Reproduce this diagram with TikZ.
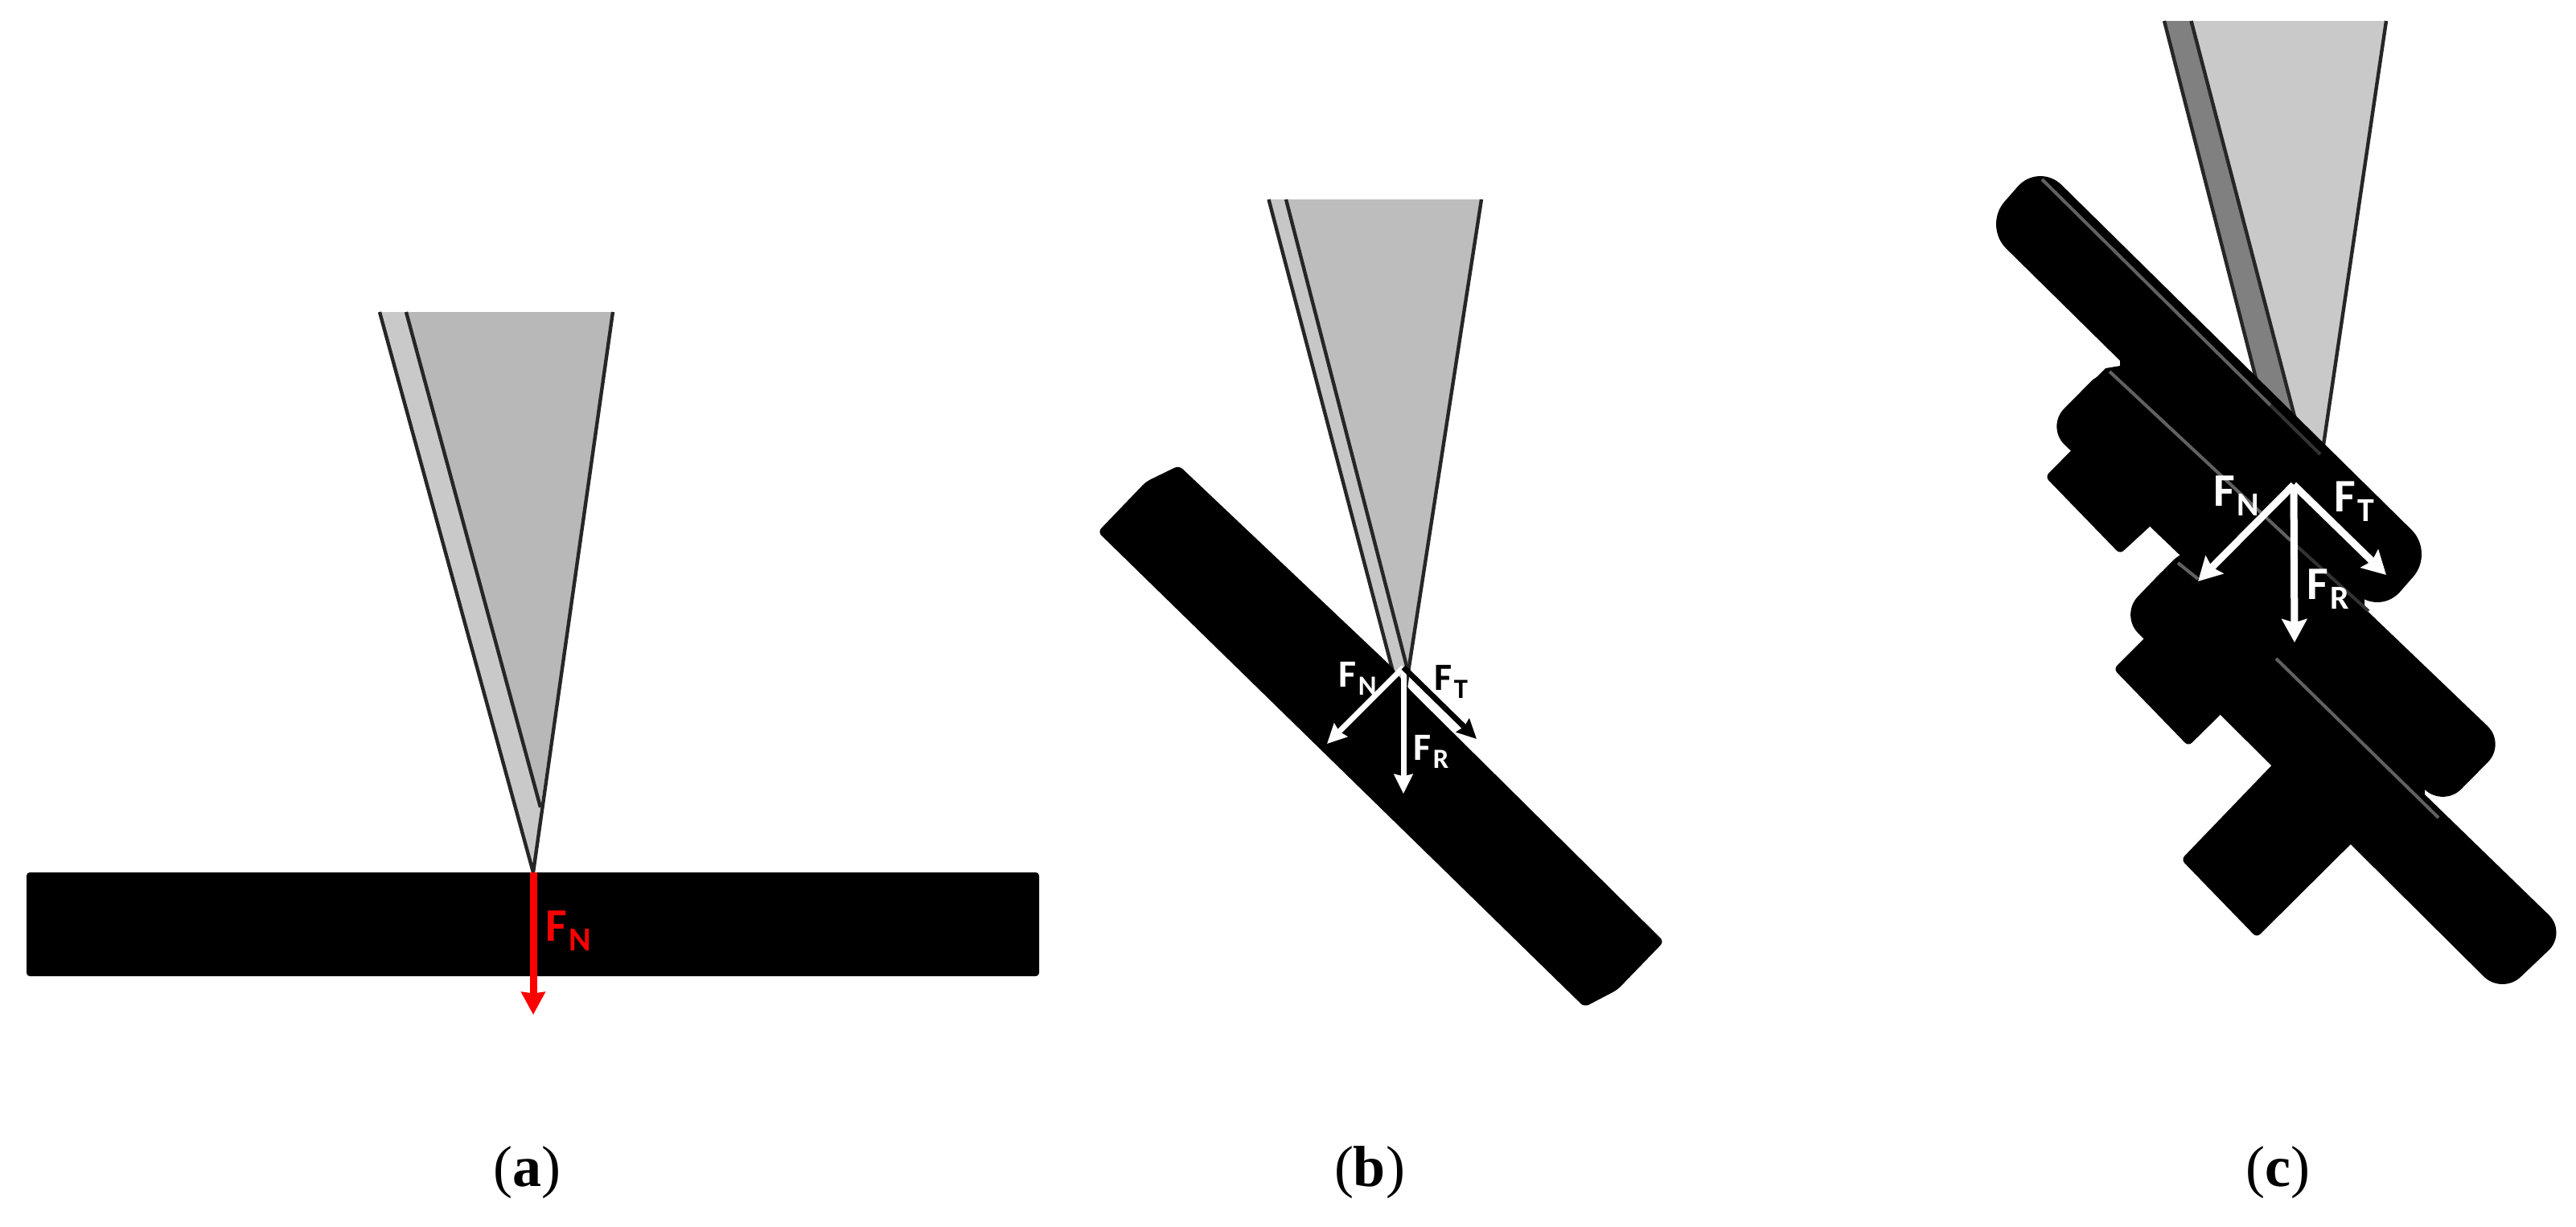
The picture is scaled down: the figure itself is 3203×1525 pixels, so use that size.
\documentclass[tikz,border=0pt]{standalone}
\usepackage{fontspec}
\setmainfont{Carlito}
\newfontfamily\capfont{Liberation Serif}
\usetikzlibrary{arrows.meta}
\newcommand{\fsub}[1]{F\kern0.04em\raisebox{-0.21em}{\scalebox{0.72}{#1}}}
\definecolor{facea}{gray}{0.72}
\definecolor{stripa}{gray}{0.79}
\definecolor{faceb}{gray}{0.74}
\definecolor{stripb}{gray}{0.78}
\definecolor{facec}{gray}{0.79}
\definecolor{stripc}{gray}{0.5}
\definecolor{tipline}{gray}{0.15}

\begin{document}
\begin{tikzpicture}[x=0.25pt,y=-0.25pt]
\tikzset{tipedge/.style={draw=tipline,line width=1.1pt}}
\tikzset{barfill/.style={fill=black}}
\tikzset{glint/.style={draw=black!62,line width=1pt}}
\tikzset{glintdim/.style={draw=black!80,line width=1pt}}
\tikzset{forcea/.style={red,line width=2.25pt,-{Stealth[length=7pt,width=7.25pt,inset'=0pt 0.05]}}}
\tikzset{forceb/.style={white,line width=1.75pt,-{Stealth[length=6pt,width=5.75pt,inset'=0pt 0.1]}}}
\tikzset{forcec/.style={white,line width=2.25pt,-{Stealth[length=7.25pt,width=7.75pt,inset'=0pt 0.15]}}}
\tikzset{labbig/.style={anchor=base west,inner sep=0pt,font=\fontsize{14.5}{16}\bfseries\selectfont}}
\tikzset{labsmall/.style={anchor=base west,inner sep=0pt,font=\fontsize{12}{14}\bfseries\selectfont}}
\tikzset{caption/.style={anchor=base,inner sep=0pt,font=\fontsize{18}{20}\capfont\selectfont}}
\useasboundingbox (0,0) rectangle (3203,1525);

\coordinate (alefttop) at (472,388);
\coordinate (ainnertop) at (505,388);
\coordinate (arighttop) at (762,388);
\coordinate (ainnerend) at (672,1004);
\coordinate (aapex) at (663,1085);
\fill[stripa] (alefttop) -- (ainnertop) -- (ainnerend) -- (aapex) -- cycle;
\fill[facea] (ainnertop) -- (arighttop) -- (ainnerend) -- cycle;
\draw[tipedge] (alefttop) -- (aapex) -- (arighttop);
\draw[tipedge] (ainnertop) -- (ainnerend);
\fill[barfill,rounded corners=1pt] (33,1085) rectangle (1292,1214);
\coordinate (aforceend) at (663,1262);
\draw[forcea] (aapex) -- (aforceend);
\node[labbig,red] (afn) at (678,1170) {\fsub{N}};
\node[caption] (capa) at (655,1475) {(\textbf{a})};

\coordinate (blefttop) at (1577.5,248);
\coordinate (binnertop) at (1599,248);
\coordinate (brighttop) at (1842,248);
\coordinate (binnerend) at (1752,840);
\coordinate (bapex) at (1744,881);
\fill[stripb] (blefttop) -- (binnertop) -- (binnerend) -- (bapex) -- cycle;
\fill[faceb] (binnertop) -- (brighttop) -- (binnerend) -- cycle;
\draw[tipedge] (blefttop) -- (bapex) -- (brighttop);
\draw[tipedge] (binnertop) -- (binnerend);
\fill[barfill,rounded corners=1.5pt] (1365,661.5) -- (1425,599) -- (1466,579) -- (1730,829) -- (1753,858) -- (2069,1171) -- (2011,1231) -- (1970,1252.5) -- cycle;
\coordinate (bforce) at (1745,830);
\coordinate (bforcen) at (1650,925);
\coordinate (bforcer) at (1745,987);
\coordinate (bforcet) at (1836,919);
\draw[forceb] (bforce) -- (bforcen);
\draw[forceb] (bforce) -- (bforcer);
\draw[forceb,black] (bforce) -- (bforcet);
\node[labsmall,white] (bfn) at (1664,854) {\fsub{N}};
\node[labsmall,black] (bft) at (1783,858) {\fsub{T}};
\node[labsmall,white] (bfr) at (1757,945) {\fsub{R}};
\node[caption] (capb) at (1703,1475) {(\textbf{b})};

\coordinate (clefttop) at (2691,26);
\coordinate (cinnertop) at (2724.5,26);
\coordinate (crighttop) at (2967,26);
\coordinate (cleftend) at (2828,560);
\coordinate (cinnerend) at (2864,560);
\coordinate (crightend) at (2888,560);
\fill[stripc] (clefttop) -- (cinnertop) -- (cinnerend) -- (cleftend) -- cycle;
\fill[facec] (cinnertop) -- (crighttop) -- (crightend) -- (cinnerend) -- cycle;
\draw[tipedge] (clefttop) -- (cleftend);
\draw[tipedge] (cinnertop) -- (cinnerend);
\draw[tipedge] (crighttop) -- (crightend);
\fill[barfill,rounded corners=10pt] (2466,281) -- (2535,202) -- (3027,687) -- (2958,766) -- cycle;
\fill[barfill,rounded corners=8pt] (2544,531) -- (2622,452) -- (3116,925) -- (3038,1004) -- cycle;
\fill[barfill,rounded corners=8pt] (2636,765) -- (2708,690) -- (3192,1160) -- (3111,1237) -- cycle;
\fill[barfill] (2598,478) -- (2618,458) -- (2636,455) -- (2636,445) -- (2940,745) -- (2940,760) -- (2650,500) -- cycle;
\fill[barfill] (2690,709) -- (2704,695) -- (2711,690) -- (3015,980) -- (3015,995) -- (2720,720) -- cycle;
\fill[barfill,rounded corners=1.5pt] (2543,593) -- (2636,689) -- (2700,630) -- (2610,525) -- cycle;
\fill[barfill,rounded corners=1.5pt] (2628,832) -- (2721,928) -- (2780,870) -- (2690,770) -- cycle;
\fill[barfill,rounded corners=1.5pt] (2712,1069) -- (2806,1166) -- (2960,1013) -- (2860,915) -- cycle;
\draw[glint] (2539,223) -- (2823,504);
\draw[glintdim] (2823,504) -- (2885,565);
\draw[glint] (2623,462) -- (2848,672);
\draw[glintdim] (2848,672) -- (2945,760);
\draw[glint] (2708,700) -- (2733,720);
\draw[glint] (2830,819) -- (3032,1017);
\coordinate (cforce) at (2852,603);
\coordinate (cforcen) at (2733,723);
\coordinate (cforcer) at (2853,799);
\coordinate (cforcet) at (2967,715);
\draw[forcec] (cforce) -- (cforcen);
\draw[forcec] (cforce) -- (cforcer);
\draw[forcec] (cforce) -- (cforcet);
\node[labbig,white] (cfn) at (2752,629) {\fsub{N}};
\node[labbig,white] (cft) at (2902,636) {\fsub{T}};
\node[labbig,white] (cfr) at (2868,745) {\fsub{R}};
\node[caption] (capc) at (2832,1475) {(\textbf{c})};
\end{tikzpicture}
\end{document}
